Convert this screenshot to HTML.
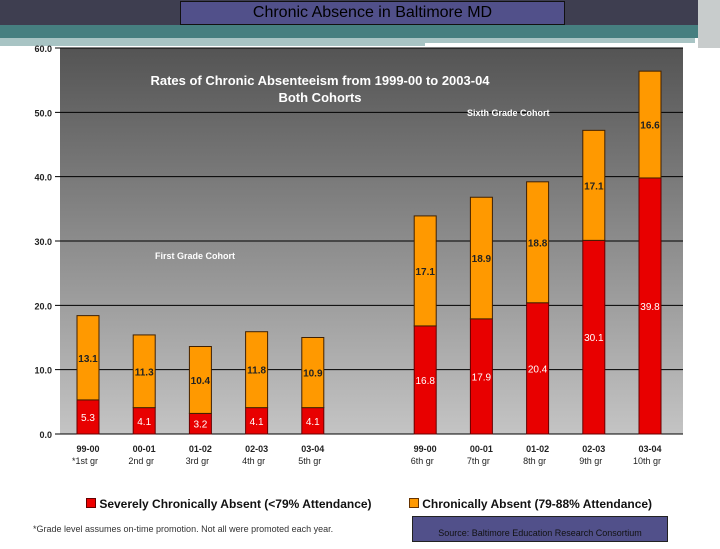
<!DOCTYPE html>
<html><head><meta charset="utf-8"><style>
body{margin:0;width:720px;height:540px;overflow:hidden;background:#fff;font-family:"Liberation Sans",sans-serif;position:relative}
.a{position:absolute}
</style></head><body>
<div class="a" style="left:0;top:0;width:720px;height:25px;background:#3e3e50"></div>
<div class="a" style="left:0;top:25px;width:720px;height:13px;background:#467f80"></div>
<div class="a" style="left:0;top:38px;width:425px;height:8px;background:#a8c4c4"></div>
<div class="a" style="left:425px;top:38px;width:270px;height:5px;background:#a8c4c4"></div>
<div class="a" style="left:698px;top:0;width:22px;height:48px;background:#c8cccc"></div>
<div class="a" style="left:180px;top:1px;width:383px;height:22px;background:#51508a;border:1px solid #111;text-align:center;font-size:16px;line-height:22px;color:#000">Chronic Absence in Baltimore MD</div>
<svg class="a" style="left:0;top:0" width="720" height="540">
<defs><linearGradient id="bg" x1="0" y1="0" x2="0" y2="1"><stop offset="0" stop-color="#545454"/><stop offset="1" stop-color="#c4c4c4"/></linearGradient></defs>
<rect x="60" y="48" width="623" height="386" fill="url(#bg)"/>
<g id="g"></g>
</svg>
<div class="a" style="left:120px;top:72px;width:400px;text-align:center;font-size:13px;font-weight:bold;color:#fff;line-height:17px">Rates of Chronic Absenteeism from 1999-00 to 2003-04<br>Both Cohorts</div>
<div class="a" style="left:467px;top:108px;font-size:9px;font-weight:bold;color:#fff">Sixth Grade Cohort</div>
<div class="a" style="left:155px;top:251px;font-size:9px;font-weight:bold;color:#fff">First Grade Cohort</div>
<div class="a" style="left:86px;top:497px;font-size:12px;font-weight:bold;color:#111;white-space:nowrap">
<span><span style="display:inline-block;width:8px;height:8px;background:#e00;border:1px solid #600"></span> Severely Chronically Absent (&lt;79% Attendance)</span>
<span style="margin-left:34px"><span style="display:inline-block;width:8px;height:8px;background:#f90;border:1px solid #630"></span> Chronically Absent (79-88% Attendance)</span></div>
<div class="a" style="left:33px;top:524px;font-size:9px;color:#333">*Grade level assumes on-time promotion. Not all were promoted each year.</div>
<div class="a" style="left:412px;top:516px;width:254px;height:24px;background:#51508a;border:1px solid #222;font-size:9px;color:#111;text-align:center;line-height:32px">Source:  Baltimore Education Research Consortium</div>
<script>
const categories=["99-00","00-01","01-02","02-03","03-04","","99-00","00-01","01-02","02-03","03-04"];
const grades=["*1st gr","2nd gr","3rd gr","4th gr","5th gr","","6th gr","7th gr","8th gr","9th gr","10th gr"];
const severe=[5.3,4.1,3.2,4.1,4.1,null,16.8,17.9,20.4,30.1,39.8];
const chronic=[13.1,11.3,10.4,11.8,10.9,null,17.1,18.9,18.8,17.1,16.6];
const ticks=[0,10,20,30,40,50,60];
const NS="http://www.w3.org/2000/svg",g=document.getElementById('g');
const y=v=>434-v*386/60, x=i=>88+56.2*i;
function mk(t,a){const e=document.createElementNS(NS,t);for(const k in a)e.setAttribute(k,a[k]);g.appendChild(e);return e;}
ticks.forEach(t=>{
 const l=mk('line',{x1:55,x2:683,y1:y(t),y2:y(t),stroke:'#000','stroke-width':1});
 
 
 const tx=mk('text',{x:52,y:y(t)+4,'text-anchor':'end','font-size':9,'font-weight':'bold',fill:'#222'});
 tx.textContent=t.toFixed(1);
 
 
});
categories.forEach((c,i)=>{
 const cx=x(i);
 if(severe[i]!=null){
  const s=severe[i],h=chronic[i];
  const r=mk('rect',{x:cx-11,y:y(s),width:22,height:y(0)-y(s),fill:'#e80000',stroke:'#600','stroke-width':1});
  
  
  const o=mk('rect',{x:cx-11,y:y(s+h),width:22,height:y(s)-y(s+h),fill:'#ff9900',stroke:'#402000','stroke-width':1});
  
  
  const t1=mk('text',{x:cx,y:(y(s)+y(0))/2+4,'text-anchor':'middle','font-size':10,fill:'#fff'});
  t1.textContent=s.toFixed(1);
  
  
  const t2=mk('text',{x:cx,y:(y(s+h)+y(s))/2+4,'text-anchor':'middle','font-size':10,'font-weight':'bold',fill:'#222'});
  t2.textContent=h.toFixed(1);
  
  
  const c1=mk('text',{x:cx,y:452,'text-anchor':'middle','font-size':9,'font-weight':'bold',fill:'#222'});
  c1.textContent=c;
  
  
  const c2=mk('text',{x:cx-3,y:464,'text-anchor':'middle','font-size':9,fill:'#222'});
  c2.textContent=grades[i];
  
  
 }
});
</script>
</body></html>
